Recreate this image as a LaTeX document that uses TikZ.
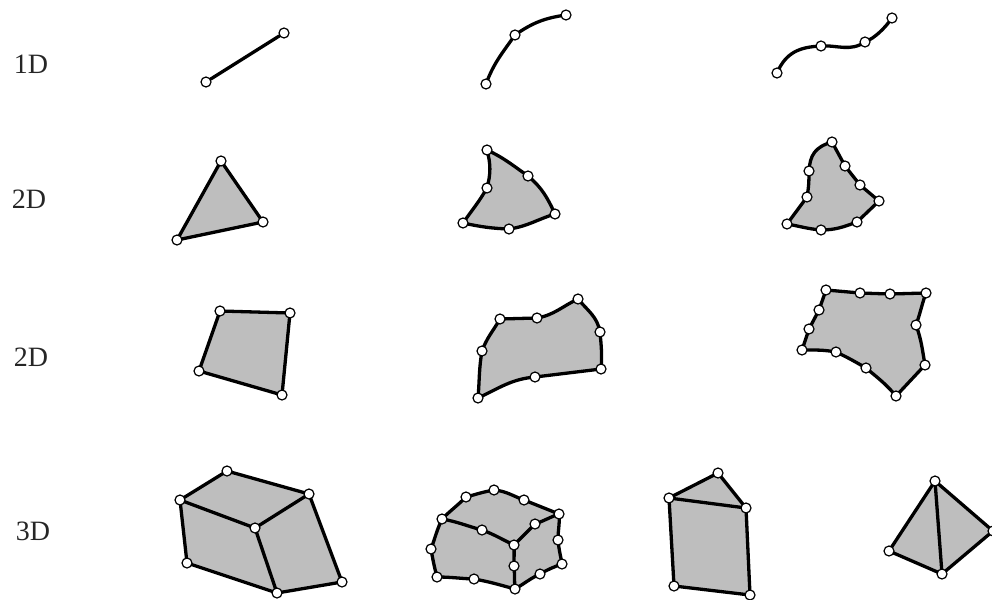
\documentclass[tikz,border=0pt]{standalone}
\usepackage{fontspec}
\setmainfont{Liberation Serif}
\usetikzlibrary{backgrounds}
\definecolor{shade}{RGB}{190,190,190}
\tikzset{
  x=1pt,y=-1pt,
  vtx/.style={circle,draw=black,fill=white,line width=1.2pt,minimum size=10pt,inner sep=0pt},
  ln/.style={draw=black,line width=3.3pt,line join=round,line cap=round},
  lab/.style={font=\fontsize{28}{28}\selectfont,text=black!85,inner sep=0pt},
}
\newcommand{\vv}[3]{\node[vtx] (#1) at (#2,#3) {};}
\begin{document}
\begin{tikzpicture}
\useasboundingbox (0,0) rectangle (992,599);
\node[lab] (l1) at (31,64) {1D};
\node[lab] (l2) at (29,199) {2D};
\node[lab] (l3) at (31,357) {2D};
\node[lab] (l4) at (33,531) {3D};
% row 1
\vv{a1}{206}{82}\vv{a2}{284}{33}
\vv{b1}{486}{84}\vv{b2}{515}{35}\vv{b3}{566}{15}
\vv{c1}{777}{73}\vv{c2}{821}{46}\vv{c3}{865}{42}\vv{c4}{892}{18}
% row 2
\vv{d1}{221}{161}\vv{d2}{263}{222}\vv{d3}{177}{240}
\vv{e1}{487}{150}\vv{e2}{528}{176}\vv{e3}{555}{214}\vv{e4}{509}{229}\vv{e5}{463}{223}\vv{e6}{487}{188}
\vv{f1}{832}{142}\vv{f2}{845}{166}\vv{f3}{860}{185}\vv{f4}{879}{201}\vv{f5}{857}{222}\vv{f6}{821}{230}\vv{f7}{787}{224}\vv{f8}{807}{197}\vv{f9}{809}{171}
% row 3
\vv{g1}{220}{311}\vv{g2}{290}{313}\vv{g3}{282}{395}\vv{g4}{199}{371}
\vv{h1}{500}{319}\vv{h2}{537}{318}\vv{h3}{578}{299}\vv{h4}{600}{332}\vv{h5}{601}{369}\vv{h6}{535}{377}\vv{h7}{478}{398}\vv{h8}{482}{351}
\vv{i1}{826}{290}\vv{i2}{860}{293}\vv{i3}{890}{294}\vv{i4}{926}{293}\vv{i5}{916}{325}\vv{i6}{925}{365}\vv{i7}{896}{396}\vv{i8}{866}{368}\vv{i9}{836}{352}\vv{i10}{802}{350}\vv{i11}{809}{329}\vv{i12}{819}{310}
% row 4 hexahedron
\vv{j1}{227}{471}\vv{j2}{309}{494}\vv{j3}{180}{500}\vv{j4}{255}{528}\vv{j5}{187}{563}\vv{j6}{277}{593}\vv{j7}{342}{582}
% curved hexahedron
\vv{k1}{494}{490}\vv{k2}{466}{497}\vv{k3}{442}{519}\vv{k4}{524}{500}\vv{k5}{559}{514}\vv{k6}{535}{524}\vv{k7}{514}{545}\vv{k8}{482}{530}\vv{k9}{431}{549}\vv{k10}{437}{577}\vv{k11}{474}{579}\vv{k12}{515}{589}\vv{k13}{514}{566}\vv{k14}{540}{574}\vv{k15}{562}{564}\vv{k16}{558}{540}
% prism
\vv{m1}{718}{473}\vv{m2}{669}{498}\vv{m3}{746}{508}\vv{m4}{674}{586}\vv{m5}{750}{595}
% pyramid
\vv{n1}{935}{481}\vv{n2}{993}{531}\vv{n3}{889}{551}\vv{n4}{942}{574}
\begin{scope}[on background layer]
% row 1
\draw[ln] (a1) -- (a2);
\draw[ln] (b1.center) to[out=70,in=235] (b2.center) to[out=35,in=188] (b3.center);
\draw[ln] (c1.center) .. controls (786,52) and (800,47) .. (c2.center) .. controls (838,45) and (850,52) .. (c3.center) .. controls (875,38) and (885,28) .. (c4.center);
% row 2
\path[ln,fill=shade] (d1.center) -- (d2.center) -- (d3.center) -- cycle;
\path[ln,fill=shade] (e1.center) to[out=-25,in=145] (e2.center) to[out=-40,in=115] (e3.center) to[out=197,in=8] (e4.center) to[out=178,in=-12] (e5.center) to[out=55,in=240] (e6.center) to[out=75,in=-75] (e1.center) -- cycle;
\path[ln,fill=shade] (f1.center) -- (f2.center) -- (f3.center) -- (f4.center) -- (f5.center) to[out=200,in=0] (f6.center) to[out=175,in=-10] (f7.center) -- (f8.center) to[out=80,in=-90] (f9.center) .. controls (810,155) and (815,147) .. (f1.center) -- cycle;
% row 3
\path[ln,fill=shade] (g1.center) -- (g2.center) -- (g3.center) -- (g4.center) -- cycle;
\path[ln,fill=shade] (h1.center) -- (h2.center) to[out=10,in=205] (h3.center) to[out=-50,in=100] (h4.center) to[out=-85,in=85] (h5.center) -- (h6.center) to[out=185,in=25] (h7.center) to[out=85,in=260] (h8.center) to[out=70,in=240] (h1.center) -- cycle;
\path[ln,fill=shade] (i1.center) -- (i2.center) -- (i3.center) -- (i4.center) to[out=250,in=70] (i5.center) to[out=-70,in=100] (i6.center) -- (i7.center) to[out=130,in=-40] (i8.center) to[out=150,in=-25] (i9.center) to[out=170,in=0] (i10.center) -- (i11.center) -- (i12.center) -- cycle;
% hexahedron
\path[fill=shade] (j1.center) -- (j2.center) -- (j7.center) -- (j6.center) -- (j5.center) -- (j3.center) -- cycle;
\draw[ln] (j3.center) -- (j1.center) -- (j2.center) -- (j7.center) -- (j6.center) -- (j5.center) -- (j3.center) -- (j4.center) -- (j2.center);
\draw[ln] (j4.center) -- (j6.center);
% curved hexahedron
\path[ln,fill=shade] (k3.center) to[out=45,in=225] (k2.center) to[out=15,in=190] (k1.center) to[out=-5,in=160] (k4.center) -- (k5.center) to[out=-85,in=90] (k16.center) to[out=-85,in=100] (k15.center) to[out=200,in=30] (k14.center) to[out=205,in=30] (k12.center) to[out=165,in=-10] (k11.center) to[out=178,in=0] (k10.center) to[out=105,in=-80] (k9.center) to[out=70,in=245] (k3.center) -- cycle;
\draw[ln] (k3.center) to[out=-10,in=165] (k8.center) to[out=-20,in=155] (k7.center) to[out=45,in=225] (k6.center) to[out=20,in=200] (k5.center);
\draw[ln] (k7.center) to[out=-88,in=90] (k13.center) to[out=-85,in=95] (k12.center);
% prism
\path[fill=shade] (m1.center) -- (m3.center) -- (m5.center) -- (m4.center) -- (m2.center) -- cycle;
\draw[ln] (m2.center) -- (m1.center) -- (m3.center) -- (m2.center) -- (m4.center) -- (m5.center) -- (m3.center);
% pyramid
\path[fill=shade] (n1.center) -- (n2.center) -- (n4.center) -- (n3.center) -- cycle;
\draw[ln] (n1.center) -- (n2.center) -- (n4.center) -- (n3.center) -- (n1.center) -- (n4.center);
\end{scope}
\end{tikzpicture}
\end{document}
